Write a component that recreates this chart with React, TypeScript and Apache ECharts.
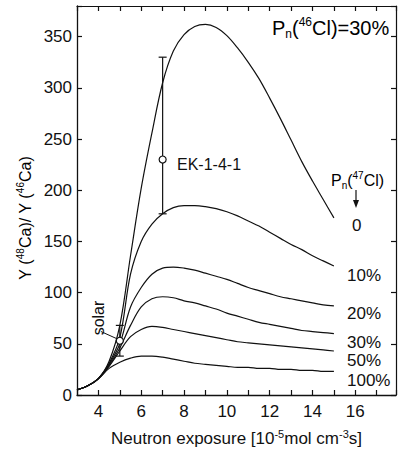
import React, { useEffect, useRef } from "react";
import * as echarts from "echarts";

const F = '"Liberation Sans", Arial, sans-serif';
const INK = "#111";

// Neutron exposure grid (10^-5 mol cm^-3 s)
const exposure = [3, 3.5, 4, 4.5, 5, 5.5, 6, 6.5, 7, 7.5, 8, 8.5, 9, 9.5, 10, 10.5, 11, 11.5, 12, 12.5, 13, 13.5, 14, 14.5, 15];

// Y(48Ca)/Y(46Ca) for Pn(47Cl) values
const pn0 = [5, 9, 16, 33, 68, 136, 202, 256, 305, 336, 352, 360, 362, 359, 351, 339, 325, 309, 290, 270, 249, 228, 209, 191, 173];
const pn10 = [5, 9, 16, 31, 56, 118, 150, 167, 177, 183, 185, 185, 184, 182, 179, 175, 170, 165, 159, 153, 147, 142, 136, 131, 126];
const pn20 = [5, 9, 16, 30, 50, 86, 105, 118, 124, 125, 124, 122, 119, 116, 113, 109, 105, 102, 99, 96, 94, 92, 90, 88, 87];
const pn30 = [5, 9, 16, 29, 46, 68, 86, 94, 96, 95, 92, 90, 87, 84, 80, 77, 74, 71, 69, 67, 65, 63, 62, 61, 60];
const pn50 = [5, 9, 16, 28, 43, 57, 64, 67, 66, 64, 62, 60, 58, 56, 54, 52, 51, 50, 49, 48, 47, 46, 45, 44, 43];
const pn100 = [5, 9, 16, 26, 32, 36, 38, 38, 37, 35, 33, 31, 30, 29, 28, 27, 27, 26, 26, 25, 25, 24, 24, 23, 23];

// measured points: solar and EK-1-4-1
const pointNames = ["solar", "EK-1-4-1"];
const pointX = [5, 7];
const pointY = [53, 230];
const pointLow = [38, 177];
const pointHigh = [68, 330];

// leader line from "solar" label to its point
const solarLeaderX = [4.12, 4.86];
const solarLeaderY = [62, 55];

const xTicksLabelled = [4, 6, 8, 10, 12, 14, 16];
const yTicksLabelled = [0, 50, 100, 150, 200, 250, 300, 350];

const curves = [pn0, pn10, pn20, pn30, pn50, pn100];

const richBase = (size: number) => ({
  b: { fontSize: size, fontFamily: F, color: INK, lineHeight: size + 4 },
  s: { fontSize: Math.round(size * 0.62), fontFamily: F, color: INK, verticalAlign: "bottom", lineHeight: size + 4 },
  p: { fontSize: Math.round(size * 0.62), fontFamily: F, color: INK, verticalAlign: "top", lineHeight: size + 4 },
});

export default function App() {
  const ref = useRef<HTMLDivElement>(null);
  useEffect(() => {
    if (!ref.current) return;
    const chart = echarts.init(ref.current, null, { renderer: "svg" });
    const lineSeries = curves.map((vals, i) => ({
      type: "line",
      name: "c" + i,
      data: exposure.map((x, j) => [x, vals[j]]),
      smooth: 0.35,
      showSymbol: false,
      symbol: "none",
      lineStyle: { color: INK, width: 1.2 },
      silent: true,
      z: 2,
    }));
    const option: any = {
      animation: false,
      textStyle: { fontFamily: F },
      grid: { left: 77, right: -3, top: 6, bottom: 50, containLabel: false },
      xAxis: [
        {
          type: "value",
          min: 3,
          max: 17.9,
          interval: 1,
          position: "bottom",
          axisLine: { show: true, onZero: false, lineStyle: { color: INK, width: 1.3 } },
          axisTick: { show: true, inside: true, length: 5, lineStyle: { color: INK, width: 1.2 } },
          axisLabel: {
            color: INK,
            fontSize: 17,
            fontFamily: F,
            margin: 8,
            formatter: (v: number) => (xTicksLabelled.includes(v) ? String(v) : ""),
          },
          splitLine: { show: false },
          name: "{b|Neutron exposure [10}{p|-5}{b|mol cm}{p|-3}{b|s]}",
          nameLocation: "middle",
          nameGap: 33,
          nameTextStyle: { rich: richBase(17) },
        },
        {
          type: "value",
          min: 3,
          max: 17.9,
          interval: 1,
          position: "top",
          axisLine: { show: true, onZero: false, lineStyle: { color: INK, width: 1.2 } },
          axisTick: { show: true, inside: true, length: 5, lineStyle: { color: INK, width: 1.2 } },
          axisLabel: { show: false },
          splitLine: { show: false },
        },
      ],
      yAxis: [
        {
          type: "value",
          min: 0,
          max: 380,
          interval: 50,
          position: "left",
          axisLine: { show: true, onZero: false, lineStyle: { color: INK, width: 1.3 } },
          axisTick: { show: true, inside: true, length: 5, lineStyle: { color: INK, width: 1.2 } },
          axisLabel: {
            color: INK,
            fontSize: 17,
            fontFamily: F,
            margin: 5,
            formatter: (v: number) => (yTicksLabelled.includes(v) ? String(v) : ""),
          },
          splitLine: { show: false },
        },
        {
          type: "value",
          min: 0,
          max: 380,
          interval: 50,
          position: "right",
          axisLine: { show: true, onZero: false, lineStyle: { color: INK, width: 1.2 } },
          axisTick: { show: true, inside: true, length: 5, lineStyle: { color: INK, width: 1.2 } },
          axisLabel: { show: false },
          splitLine: { show: false },
        },
      ],
      series: [
        ...lineSeries,
        {
          type: "line",
          name: "solarLeader",
          data: solarLeaderX.map((x, i) => [x, solarLeaderY[i]]),
          showSymbol: false,
          symbol: "none",
          lineStyle: { color: INK, width: 1 },
          silent: true,
        },
        {
          type: "custom",
          name: "points",
          clip: false,
          z: 5,
          data: pointX.map((x, i) => [x, pointY[i], pointLow[i], pointHigh[i], pointNames[i]]),
          encode: { x: 0, y: 1 },
          renderItem: (params: any, api: any) => {
            const x = api.value(0);
            const c = api.coord([x, api.value(1)]);
            const lo = api.coord([x, api.value(2)]);
            const hi = api.coord([x, api.value(3)]);
            const r = 3.5;
            const st = { stroke: INK, lineWidth: 1.2, fill: "none" };
            return {
              type: "group",
              children: [
                { type: "line", shape: { x1: c[0], y1: hi[1], x2: c[0], y2: c[1] - r }, style: st },
                { type: "line", shape: { x1: c[0], y1: c[1] + r, x2: c[0], y2: lo[1] }, style: st },
                { type: "line", shape: { x1: c[0] - 4, y1: hi[1], x2: c[0] + 4, y2: hi[1] }, style: st },
                { type: "line", shape: { x1: c[0] - 4, y1: lo[1], x2: c[0] + 4, y2: lo[1] }, style: st },
                { type: "circle", shape: { cx: c[0], cy: c[1], r }, style: { stroke: INK, lineWidth: 1.2, fill: "#fff" } },
              ],
            };
          },
        },
      ],
      graphic: [
        {
          type: "text",
          x: 272,
          y: 28,
          style: {
            text: "{b|P}{s|n}{b|(}{p|46}{b|Cl)=30%}",
            rich: richBase(20),
            verticalAlign: "middle",
            align: "left",
          },
        },
        {
          type: "text",
          x: 25,
          y: 218,
          rotation: Math.PI / 2,
          style: {
            text: "{b|Y (}{p|48}{b|Ca)/ Y (}{p|46}{b|Ca)}",
            rich: richBase(16),
            align: "center",
            verticalAlign: "middle",
          },
        },
        {
          type: "text",
          x: 177,
          y: 164,
          style: { text: "EK-1-4-1", font: `16px ${F}`, fill: INK, verticalAlign: "middle", align: "left" },
        },
        {
          type: "text",
          x: 98,
          y: 318,
          rotation: Math.PI / 2,
          style: { text: "solar", font: `16px ${F}`, fill: INK, verticalAlign: "middle", align: "center" },
        },
        {
          type: "text",
          x: 331,
          y: 180,
          style: {
            text: "{b|P}{s|n}{b|(}{p|47}{b|Cl)}",
            rich: richBase(16),
            verticalAlign: "middle",
            align: "left",
          },
        },
        { type: "line", shape: { x1: 356, y1: 190, x2: 356, y2: 203 }, style: { stroke: INK, lineWidth: 1.2 } },
        { type: "polygon", shape: { points: [[353, 200], [359, 200], [356, 208]] }, style: { fill: INK } },
        { type: "text", x: 352, y: 225, style: { text: "0", font: `17px ${F}`, fill: INK, verticalAlign: "middle" } },
        { type: "text", x: 347, y: 275, style: { text: "10%", font: `17px ${F}`, fill: INK, verticalAlign: "middle" } },
        { type: "text", x: 347, y: 313, style: { text: "20%", font: `17px ${F}`, fill: INK, verticalAlign: "middle" } },
        { type: "text", x: 347, y: 342, style: { text: "30%", font: `17px ${F}`, fill: INK, verticalAlign: "middle" } },
        { type: "text", x: 347, y: 360, style: { text: "50%", font: `17px ${F}`, fill: INK, verticalAlign: "middle" } },
        { type: "text", x: 347, y: 380, style: { text: "100%", font: `17px ${F}`, fill: INK, verticalAlign: "middle" } },
      ],
    };
    chart.setOption(option);
    return () => chart.dispose();
  }, []);
  return (
    <div
      ref={ref}
      style={{ position: "fixed", left: 0, top: 0, width: 399, height: 452, background: "#fff" }}
    />
  );
}
